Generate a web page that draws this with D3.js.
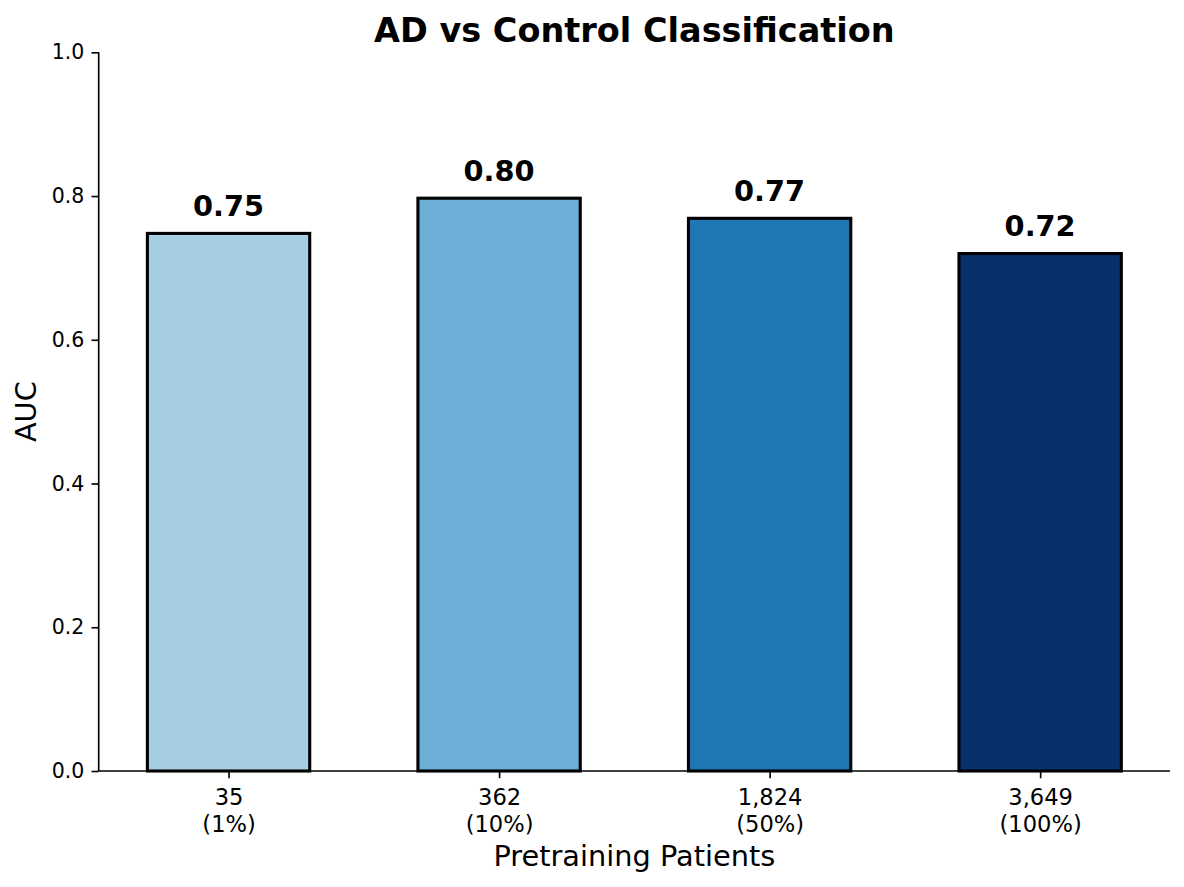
<!DOCTYPE html>
<html>
<head>
<meta charset="utf-8">
<script src="https://cdn.jsdelivr.net/npm/d3@7"></script>
<style>
  html, body { margin: 0; padding: 0; background: #fff; }
  svg { display: block; font-family: "DejaVu Sans", sans-serif; }
</style>
</head>
<body>
<svg id="chart" width="1184" height="887"></svg>
<script>
// ---- data ----
const categories = ["35\n(1%)", "362\n(10%)", "1,824\n(50%)", "3,649\n(100%)"];
const aucValues = [0.748, 0.797, 0.769, 0.720];
const barColors = ["#a6cee3", "#6baed6", "#1f78b4", "#08306b"];
const yTicks = [0.0, 0.2, 0.4, 0.6, 0.8, 1.0];
const titleText = "AD vs Control Classification";
const xLabelText = "Pretraining Patients";
const yLabelText = "AUC";

// ---- layout ----
const W = 1184, H = 887;
const plot = { left: 98.7, right: 1170, top: 52.3, bottom: 771 };
const barWidth = 0.6;

const svg = d3.select("#chart");

const x = d3.scaleLinear()
  .domain([-0.48, categories.length - 1 + 0.48])
  .range([plot.left, plot.right]);
const y = d3.scaleLinear()
  .domain([0, 1])
  .range([plot.bottom, plot.top]);

// bars
svg.append("g").selectAll("rect")
  .data(aucValues)
  .join("rect")
  .attr("x", (d, i) => x(i - barWidth / 2))
  .attr("width", (d, i) => x(i + barWidth / 2) - x(i - barWidth / 2))
  .attr("y", d => y(d))
  .attr("height", d => y(0) - y(d))
  .attr("fill", (d, i) => barColors[i])
  .attr("stroke", "#000")
  .attr("stroke-width", 3.1);

// value labels
svg.append("g").selectAll("text")
  .data(aucValues)
  .join("text")
  .attr("x", (d, i) => x(i))
  .attr("y", d => y(d) - 17.3)
  .attr("text-anchor", "middle")
  .attr("font-size", "28.8px")
  .attr("font-weight", "bold")
  .attr("fill", "#000")
  .text(d => d.toFixed(2));

// y axis
const yAxis = d3.axisLeft(y)
  .tickValues(yTicks)
  .tickFormat(d3.format(".1f"))
  .tickSize(7.2)
  .tickPadding(7.2);
const gy = svg.append("g")
  .attr("transform", `translate(${plot.left},0)`)
  .call(yAxis);
gy.select(".domain").attr("stroke", "#000").attr("stroke-width", 1.64)
  .attr("d", `M0,${plot.bottom}V${plot.top}`);
gy.selectAll(".tick line").attr("stroke", "#000").attr("stroke-width", 1.64);
gy.selectAll(".tick text")
  .attr("font-size", "20.5px")
  .attr("font-family", "DejaVu Sans, sans-serif")
  .attr("fill", "#000");

// x axis
const xAxis = d3.axisBottom(x)
  .tickValues(d3.range(categories.length))
  .tickFormat("")
  .tickSize(7.2);
const gx = svg.append("g")
  .attr("transform", `translate(0,${plot.bottom})`)
  .call(xAxis);
gx.select(".domain").attr("stroke", "#000").attr("stroke-width", 1.64)
  .attr("d", `M${plot.left},0H${plot.right}`);
gx.selectAll(".tick line").attr("stroke", "#000").attr("stroke-width", 1.64);
gx.selectAll(".tick").each(function(d) {
  const lines = categories[d].split("\n");
  const t = d3.select(this).append("text")
    .attr("text-anchor", "middle")
    .attr("font-size", "22.6px")
    .attr("font-family", "DejaVu Sans, sans-serif")
    .attr("fill", "#000");
  lines.forEach((ln, k) => {
    t.append("tspan").attr("x", 0).attr("y", 34 + k * 26.7).text(ln);
  });
});

// title
svg.append("text")
  .attr("x", (plot.left + plot.right) / 2)
  .attr("y", 41.8)
  .attr("text-anchor", "middle")
  .attr("font-size", "33.5px")
  .attr("font-weight", "bold")
  .attr("fill", "#000")
  .text(titleText);

// x label
svg.append("text")
  .attr("x", (plot.left + plot.right) / 2)
  .attr("y", 866)
  .attr("text-anchor", "middle")
  .attr("font-size", "28.8px")
  .attr("fill", "#000")
  .text(xLabelText);

// y label
svg.append("text")
  .attr("transform", `translate(36,${(plot.top + plot.bottom) / 2}) rotate(-90)`)
  .attr("text-anchor", "middle")
  .attr("font-size", "28.8px")
  .attr("fill", "#000")
  .text(yLabelText);
</script>
</body>
</html>
